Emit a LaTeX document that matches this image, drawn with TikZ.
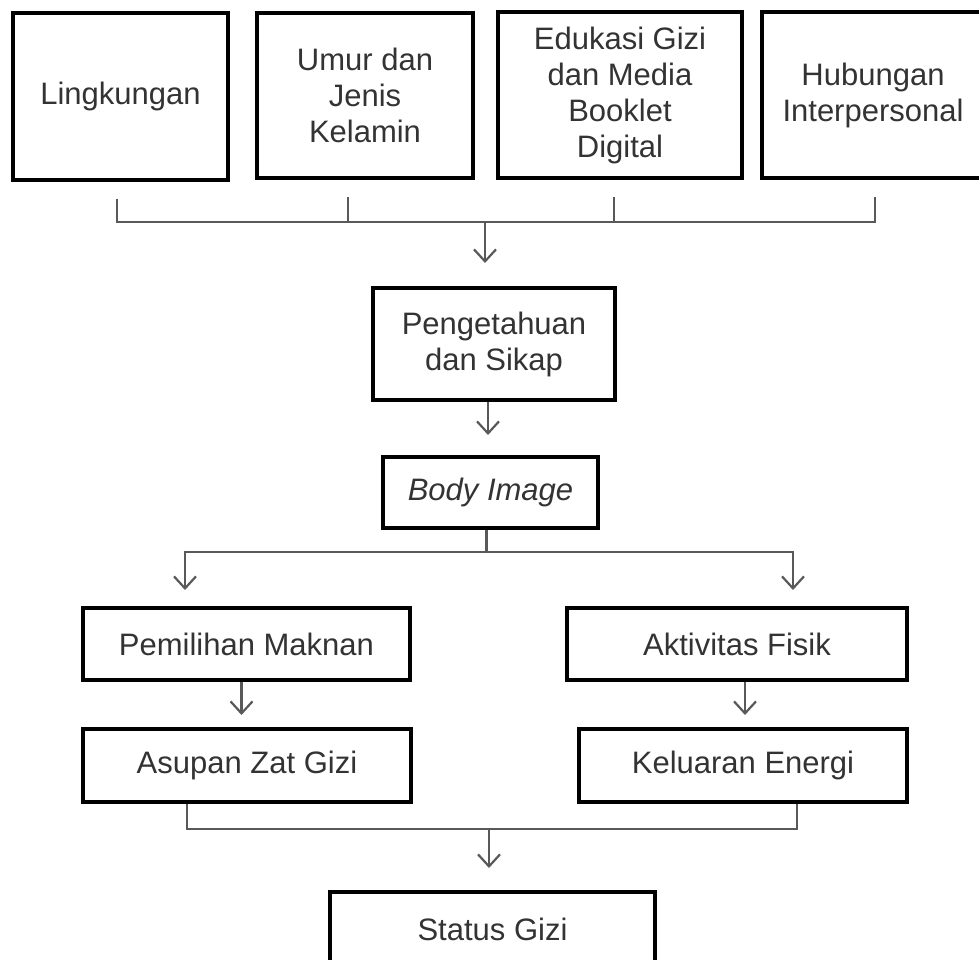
\documentclass[tikz,border=0pt]{standalone}
\usepackage{fontspec}
\setmainfont{Liberation Sans}
\usetikzlibrary{arrows.meta,positioning}

\begin{document}
\begin{tikzpicture}[x=1pt,y=-1pt,>={Straight Barb[length=12pt,width=22pt]},font=\fontsize{31}{36}\selectfont]
  \tikzstyle{box}=[draw=black,line width=4pt,text=black!80,align=center,inner sep=0pt]
  \tikzstyle{line}=[draw=black!65,line width=2.2pt]
  \tikzstyle{arr}=[line,->]

  \useasboundingbox[fill=white] (0,0) rectangle (979,960);

  \node[box,minimum width=215pt,minimum height=167pt] (ling) at (120.5,96.5) {Lingkungan};
  \node[box,minimum width=216pt,minimum height=165pt] (umur) at (365,95.5) {Umur dan\\Jenis\\Kelamin};
  \node[box,minimum width=244pt,minimum height=166pt] (edu)  at (620,95) {Edukasi Gizi\\dan Media\\Booklet\\Digital};
  \node[box,minimum width=222pt,minimum height=166pt] (hub)  at (873,95) {Hubungan\\Interpersonal};
  \node[box,minimum width=242pt,minimum height=112pt] (peng) at (494,344) {Pengetahuan\\dan Sikap};
  \node[box,minimum width=215pt,minimum height=71pt]  (body) at (490.5,492.5) {\itshape Body Image};
  \node[box,minimum width=327pt,minimum height=72pt]  (pem)  at (246.5,644) {Pemilihan Maknan};
  \node[box,minimum width=340pt,minimum height=72pt]  (akt)  at (737,644) {Aktivitas Fisik};
  \node[box,minimum width=328pt,minimum height=73pt]  (asu)  at (247,765.5) {Asupan Zat Gizi};
  \node[box,minimum width=328pt,minimum height=73pt]  (kel)  at (743,765.5) {Keluaran Energi};
  \node[box,minimum width=325pt,minimum height=75pt]  (stat) at (492.5,929.5) {Status Gizi};

  \coordinate (join)   at (485,222);
  \coordinate (splitL) at (185,552);
  \coordinate (splitR) at (793,552);
  \coordinate (merge)  at (489,829);

  % top bracket
  \draw[line] ([shift={(-3.5pt,-17pt)}]ling.south) |- ([xshift=2pt]hub.south |- join) -- ([shift={(2pt,-17pt)}]hub.south);
  \draw[line] ([shift={(-17pt,-17pt)}]umur.south) -- ([xshift=-17pt]umur.south |- join);
  \draw[line] ([shift={(-6pt,-17pt)}]edu.south) -- ([xshift=-6pt]edu.south |- join);
  \draw[arr,shorten >=23pt] (join) -- (join |- peng.north);

  \draw[arr,shorten >=20pt] ([xshift=-6pt]peng.south) -- ([xshift=-6pt]peng.south |- body.north);

  % split
  \draw[line] ([xshift=-4pt]body.south) -- ([xshift=-4pt]body.south |- splitL);
  \draw[arr,shorten >=16pt] ([xshift=-4pt]body.south |- splitL) -- (splitL) -- (splitL |- pem.north);
  \draw[arr,shorten >=16pt] ([xshift=-4pt]body.south |- splitR) -- (splitR) -- (splitR |- akt.north);

  \draw[arr,shorten >=12pt] ([xshift=-5pt]pem.south) -- ([xshift=-5pt]pem.south |- asu.north);
  \draw[arr,shorten >=12pt] ([xshift=8pt]akt.south) -- ([xshift=8pt]akt.south |- kel.north);

  % bottom bracket
  \draw[line] ([xshift=-60pt]asu.south) |- (merge) -| ([xshift=54pt]kel.south);
  \draw[arr,shorten >=22pt] (merge) -- (merge |- stat.north);
\end{tikzpicture}
\end{document}
